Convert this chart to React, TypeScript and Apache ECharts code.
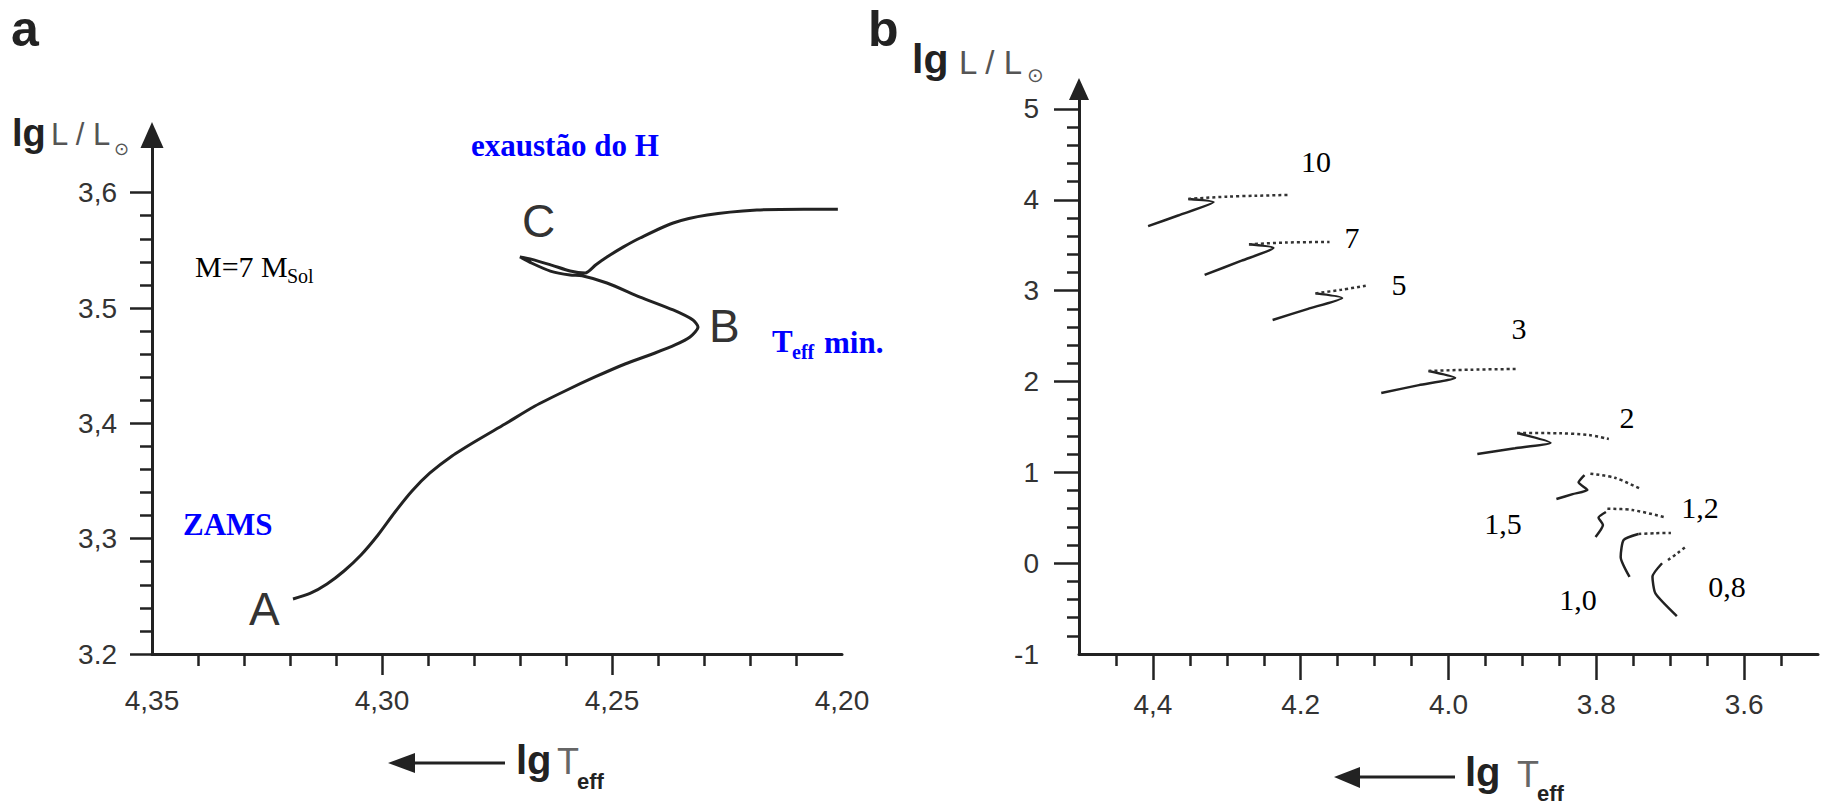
import React, { useEffect, useRef } from "react";
import * as echarts from "echarts";

const SANS = "'Liberation Sans', Arial, sans-serif";
const SERIF = "'Liberation Serif', 'Times New Roman', serif";
const SYM = "'DejaVu Sans', sans-serif";

// ---------- Panel a: evolutionary track of a 7 solar-mass star ----------
const trackM7 = [
  [4.31935, 3.24769], [4.31565, 3.25246], [4.31196, 3.2607], [4.30826, 3.27197],
  [4.30457, 3.28584], [4.30087, 3.30318], [4.29717, 3.32312], [4.29348, 3.34133],
  [4.28957, 3.35694], [4.28478, 3.37168], [4.27957, 3.38469], [4.27326, 3.39943],
  [4.26674, 3.41504], [4.26022, 3.42804], [4.2537, 3.44018], [4.24717, 3.45145],
  [4.24065, 3.46099], [4.2363, 3.46793], [4.23304, 3.47486], [4.2313, 3.48353],
  [4.2324, 3.4896], [4.2367, 3.4983], [4.2439, 3.5095], [4.2511, 3.5217],
  [4.2565, 3.528], [4.2591, 3.5286], [4.2634, 3.532], [4.2674, 3.5388],
  [4.27, 3.5443], [4.2674, 3.5422], [4.263, 3.537], [4.2591, 3.5321],
  [4.2558, 3.5304], [4.2535, 3.5375], [4.2511, 3.5442], [4.2475, 3.553],
  [4.2439, 3.5607], [4.2367, 3.5737], [4.2293, 3.5806], [4.2185, 3.5849],
  [4.2083, 3.5857], [4.2009, 3.5857],
];

const xTicksA = [4.35, 4.3, 4.25, 4.2];
const xLabelsA = ["4,35", "4,30", "4,25", "4,20"];
const xMajorTicksA = [4.3, 4.25];
const xMinorTicksA = [4.34, 4.33, 4.32, 4.31, 4.29, 4.28, 4.27, 4.26, 4.24, 4.23, 4.22, 4.21];
const yTicksA = [3.2, 3.3, 3.4, 3.5, 3.6];
const yLabelsA = ["3.2", "3,3", "3,4", "3.5", "3,6"];
const yMinorTicksA = [3.22, 3.24, 3.26, 3.28, 3.32, 3.34, 3.36, 3.38, 3.42, 3.44, 3.46, 3.48, 3.52, 3.54, 3.56, 3.58];

// ---------- Panel b: tracks for several masses (solid = main sequence, dotted = after) ----------
const m10Solid = [[4.4065, 3.71], [4.365, 3.83], [4.318, 3.975], [4.352, 4.01]];
const m10Dotted = [[4.352, 4.01], [4.3, 4.035], [4.26, 4.045], [4.215, 4.054]];
const m7Solid = [[4.33, 3.173], [4.28, 3.33], [4.237, 3.47], [4.27, 3.51]];
const m7Dotted = [[4.27, 3.51], [4.22, 3.53], [4.161, 3.536]];
const m5Solid = [[4.238, 2.677], [4.19, 2.8], [4.144, 2.92], [4.18, 2.97]];
const m5Dotted = [[4.18, 2.97], [4.145, 3.01], [4.112, 3.055]];
const m3Solid = [[4.091, 1.873], [4.04, 1.96], [3.991, 2.04], [4.027, 2.116]];
const m3Dotted = [[4.027, 2.116], [3.97, 2.13], [3.907, 2.138]];
const m2Solid = [[3.961, 1.202], [3.91, 1.265], [3.862, 1.326], [3.907, 1.433]];
const m2Dotted = [[3.907, 1.433], [3.85, 1.43], [3.81, 1.41], [3.783, 1.367]];
const m15Solid = [[3.854, 0.706], [3.832, 0.76], [3.812, 0.806], [3.824, 0.89], [3.816, 0.97]];
const m15Dotted = [[3.808, 0.985], [3.775, 0.94], [3.74, 0.817]];
const m12Solid = [[3.801, 0.288], [3.791, 0.42], [3.797, 0.5], [3.787, 0.563]];
const m12Dotted = [[3.785, 0.6], [3.751, 0.585], [3.707, 0.505]];
const m10sunSolid = [[3.755, -0.152], [3.767, 0.068], [3.763, 0.255], [3.743, 0.321]];
const m10sunDotted = [[3.743, 0.321], [3.72, 0.33], [3.699, 0.332]];
const m08Solid = [[3.691, -0.582], [3.72, -0.332], [3.724, -0.149], [3.711, -0.001]];
const m08Dotted = [[3.703, 0.035], [3.69, 0.11], [3.679, 0.181]];

const xTicksB = [4.4, 4.2, 4.0, 3.8, 3.6];
const xLabelsB = ["4,4", "4.2", "4.0", "3.8", "3.6"];
const xMinorTicksB = [4.45, 4.35, 4.3, 4.25, 4.15, 4.1, 4.05, 3.95, 3.9, 3.85, 3.75, 3.7, 3.65, 3.55];
const yTicksB = [-1, 0, 1, 2, 3, 4, 5];
const yLabelsB = ["-1", "0", "1", "2", "3", "4", "5"];
const yMinorTicksB = [
  -0.8, -0.6, -0.4, -0.2, 0.2, 0.4, 0.6, 0.8, 1.2, 1.4, 1.6, 1.8, 2.2, 2.4, 2.6, 2.8,
  3.2, 3.4, 3.6, 3.8, 4.2, 4.4, 4.6, 4.8,
];

const massLabels = ["10", "7", "5", "3", "2", "1,5", "1,2", "1,0", "0,8"];

const fmt = (ticks: number[], labels: string[]) => (v: number) => {
  const i = ticks.findIndex((t) => Math.abs(t - v) < 1e-6);
  return i >= 0 ? labels[i] : "";
};

const AXIS_COLOR = "#222";
const LABEL_COLOR = "#333";

function valueAxis(extra: any) {
  return {
    type: "value",
    splitLine: { show: false },
    axisLine: { onZero: false, lineStyle: { color: AXIS_COLOR, width: 3 } },
    ...extra,
  };
}

function minorAxis(base: any, ticks: number[], len: number) {
  return {
    ...base,
    type: "value",
    splitLine: { show: false },
    axisLine: { show: false, onZero: false },
    axisLabel: { show: false },
    axisTick: { show: true, customValues: ticks, length: len, lineStyle: { color: AXIS_COLOR, width: 2.5 } },
  };
}

function txt(text: string, x: number, y: number, font: any, fill: string, align = "left", valign = "middle") {
  return {
    type: "text",
    x,
    y,
    style: {
      text,
      fill,
      fontSize: font.size,
      fontFamily: font.family,
      fontWeight: font.weight || "normal",
      align,
      textAlign: align,
      verticalAlign: valign,
      textVerticalAlign: valign,
    },
  };
}

export default function App() {
  const ref = useRef<HTMLDivElement>(null);

  useEffect(() => {
    if (!ref.current) return;
    const chart = echarts.init(ref.current, null, { renderer: "svg" });

    const axA_x = { gridIndex: 0, min: 4.2, max: 4.35, inverse: true };
    const axA_y = { gridIndex: 0, min: 3.2, max: 3.65 };
    const axB_x = { gridIndex: 1, min: 3.5, max: 4.5, inverse: true };
    const axB_y = { gridIndex: 1, min: -1, max: 5.22 };

    const labelFont = { color: LABEL_COLOR, fontSize: 28, fontFamily: SANS };

    const solid = { color: "#222", width: 2.5 };
    const dotted = { color: "#333", width: 2.5, type: [3, 3] as any };
    const bTracks = [
      [m10Solid, m10Dotted], [m7Solid, m7Dotted], [m5Solid, m5Dotted], [m3Solid, m3Dotted],
      [m2Solid, m2Dotted], [m15Solid, m15Dotted], [m12Solid, m12Dotted],
      [m10sunSolid, m10sunDotted], [m08Solid, m08Dotted],
    ];
    const bSeries: any[] = [];
    bTracks.forEach(([s, d]) => {
      bSeries.push({
        type: "line", xAxisIndex: 2, yAxisIndex: 2, data: s, smooth: 0.2,
        showSymbol: false, lineStyle: solid, silent: true,
      });
      bSeries.push({
        type: "line", xAxisIndex: 2, yAxisIndex: 2, data: d, smooth: 0.3,
        showSymbol: false, lineStyle: dotted, silent: true,
      });
    });

    const serifN = { size: 30, family: SERIF };
    const serifB = { size: 31, family: SERIF, weight: "bold" };
    const letter = { size: 46, family: SANS };
    const massPos = [
      [1316, 161], [1352, 237], [1399, 284], [1519, 328], [1627, 417],
      [1503, 523], [1700, 507], [1578, 599], [1727, 586],
    ];

    const graphic: any[] = [
      // panel letters
      txt("a", 11, 4, { size: 50, family: SANS, weight: "bold" }, "#222", "left", "top"),
      txt("b", 868, 4, { size: 50, family: SANS, weight: "bold" }, "#222", "left", "top"),
      // panel a y title
      txt("lg", 12, 133, { size: 38, family: SANS, weight: "bold" }, "#222"),
      txt("L / L", 51, 134, { size: 31, family: SANS }, "#555"),
      txt("\u2299", 114, 148, { size: 18, family: SYM }, "#555"),
      // panel b y title
      txt("lg", 912, 59, { size: 41, family: SANS, weight: "bold" }, "#222"),
      txt("L / L", 959, 62, { size: 33, family: SANS }, "#555"),
      txt("\u2299", 1027, 75, { size: 20, family: SYM }, "#555"),
      // panel a x title
      { type: "polygon", shape: { points: [[388, 763], [415, 753], [415, 773]] }, style: { fill: "#222" } },
      { type: "line", shape: { x1: 412, y1: 763, x2: 505, y2: 763 }, style: { stroke: "#222", lineWidth: 3 } },
      txt("lg", 516, 760, { size: 40, family: SANS, weight: "bold" }, "#222"),
      txt("T", 557, 761, { size: 36, family: SANS }, "#666"),
      txt("eff", 577, 781, { size: 22, family: SANS, weight: "bold" }, "#222"),
      // panel b x title
      { type: "polygon", shape: { points: [[1334, 777], [1360, 767], [1360, 788]] }, style: { fill: "#222" } },
      { type: "line", shape: { x1: 1357, y1: 777, x2: 1455, y2: 777 }, style: { stroke: "#222", lineWidth: 3 } },
      txt("lg", 1465, 772, { size: 40, family: SANS, weight: "bold" }, "#222"),
      txt("T", 1517, 774, { size: 36, family: SANS }, "#666"),
      txt("eff", 1537, 793, { size: 22, family: SANS, weight: "bold" }, "#222"),
      // panel a annotations
      txt("exaustão do H", 471, 145, serifB, "#0000ff"),
      txt("M=7 M", 195, 266, serifN, "#000"),
      txt("Sol", 287, 276, { size: 20, family: SERIF }, "#000"),
      txt("ZAMS", 183, 524, serifB, "#0000ff"),
      txt("T", 772, 341, serifB, "#0000ff"),
      txt("eff", 792, 352, { size: 20, family: SERIF, weight: "bold" }, "#0000ff"),
      txt("min.", 824, 342, serifB, "#0000ff"),
      txt("A", 249, 609, letter, "#333"),
      txt("B", 709, 326, letter, "#333"),
      txt("C", 522, 221, letter, "#333"),
      // panel b mass labels
      ...massLabels.map((m, i) => txt(m, massPos[i][0], massPos[i][1], serifN, "#000", "center")),
    ];

    chart.setOption({
      animation: false,
      backgroundColor: "#fff",
      grid: [
        { left: 152, top: 135, width: 690, height: 519, containLabel: false, outerBoundsMode: "none" },
        { left: 1079, top: 89, width: 739, height: 565, containLabel: false, outerBoundsMode: "none" },
      ],
      xAxis: [
        valueAxis({
          ...axA_x,
          position: "bottom",
          axisTick: { customValues: xMajorTicksA, length: 21, lineStyle: { color: AXIS_COLOR, width: 2.5 } },
          axisLabel: { ...labelFont, margin: 32, customValues: xTicksA, formatter: fmt(xTicksA, xLabelsA), showMinLabel: true, showMaxLabel: true },
        }),
        minorAxis({ ...axA_x, position: "bottom" }, xMinorTicksA, 12),
        valueAxis({
          ...axB_x,
          position: "bottom",
          axisTick: { customValues: xTicksB, length: 26, lineStyle: { color: AXIS_COLOR, width: 2.5 } },
          axisLabel: { ...labelFont, margin: 36, customValues: xTicksB, formatter: fmt(xTicksB, xLabelsB) },
        }),
        minorAxis({ ...axB_x, position: "bottom" }, xMinorTicksB, 12),
      ],
      yAxis: [
        valueAxis({
          ...axA_y,
          position: "left",
          axisLine: { onZero: false, symbol: ["none", "triangle"], symbolSize: [23, 26], lineStyle: { color: AXIS_COLOR, width: 3 } },
          axisTick: { customValues: yTicksA, length: 22, lineStyle: { color: AXIS_COLOR, width: 2.5 } },
          axisLabel: { ...labelFont, margin: 35, customValues: yTicksA, formatter: fmt(yTicksA, yLabelsA), showMinLabel: true },
        }),
        minorAxis({ ...axA_y, position: "left" }, yMinorTicksA, 12),
        valueAxis({
          ...axB_y,
          position: "left",
          axisLine: { onZero: false, symbol: ["none", "triangle"], symbolSize: [20, 22], lineStyle: { color: AXIS_COLOR, width: 3 } },
          axisTick: { customValues: yTicksB.filter((v) => v !== -1), length: 25, lineStyle: { color: AXIS_COLOR, width: 2.5 } },
          axisLabel: { ...labelFont, margin: 40, customValues: yTicksB, formatter: fmt(yTicksB, yLabelsB), showMinLabel: true },
        }),
        minorAxis({ ...axB_y, position: "left" }, yMinorTicksB, 12),
      ],
      series: [
        {
          type: "line", xAxisIndex: 0, yAxisIndex: 0, data: trackM7, smooth: 0.25,
          showSymbol: false, lineStyle: { color: "#222", width: 3 }, silent: true,
        },
        ...bSeries,
      ],
      graphic,
    });

    return () => chart.dispose();
  }, []);

  return (
    <div
      ref={ref}
      style={{ position: "absolute", left: 0, top: 0, width: 1825, height: 804, background: "#fff" }}
    />
  );
}
